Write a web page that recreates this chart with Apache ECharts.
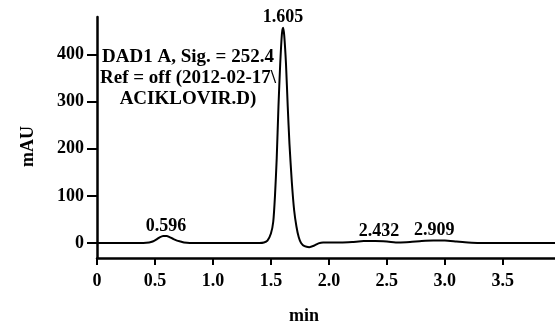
<!DOCTYPE html>
<html>
<head>
<meta charset="utf-8">
<script src="https://cdn.jsdelivr.net/npm/echarts@6/dist/echarts.min.js"></script>
<style>
  html, body { margin: 0; padding: 0; background: #fff; }
  #main-chart { width: 555px; height: 327px; }
</style>
</head>
<body>
<div id="main-chart"></div>
<script>
// retention time (min) and absorbance (mAU)
const times = [0, 0.1, 0.2, 0.3, 0.4, 0.45, 0.48, 0.51, 0.54, 0.57, 0.6, 0.63, 0.66, 0.69, 0.72, 0.75, 0.8, 0.9, 1.0, 1.1, 1.2, 1.3, 1.4, 1.44, 1.47, 1.5, 1.52, 1.535, 1.55, 1.565, 1.58, 1.595, 1.605, 1.615, 1.63, 1.645, 1.66, 1.68, 1.7, 1.72, 1.74, 1.76, 1.79, 1.83, 1.87, 1.91, 1.95, 2.0, 2.1, 2.2, 2.3, 2.4, 2.5, 2.6, 2.7, 2.8, 2.9, 3.0, 3.1, 3.2, 3.3, 3.5, 3.7, 3.95]
const signal = [0, 0, 0, 0, 0, 1, 3, 7, 12, 15, 15, 12, 8, 5, 3, 1, 0, 0, 0, 0, 0, 0, 0, 1, 5, 20, 45, 100, 180, 290, 380, 445, 457, 440, 380, 290, 210, 130, 70, 35, 12, 0, -7, -9, -6, -1, 1, 1, 1, 2, 4, 4, 3, 1, 2, 4, 5, 5, 3, 1, 0, 0, 0, 0]

const peakTimes = [0.596, 1.605, 2.432, 2.909]
const peakHeights = [15, 457, 4, 5]
const peakLabels = ['0.596', '1.605', '2.432', '2.909']

const xTicks = [0, 0.5, 1.0, 1.5, 2.0, 2.5, 3.0, 3.5]
const yTicks = [0, 100, 200, 300, 400]

const infoLines = ['DAD1 A, Sig. = 252.4', 'Ref = off (2012-02-17\\', 'ACIKLOVIR.D)']

const font = 'Liberation Serif'
const ink = '#000'
const txt = { color: ink, fontFamily: font, fontSize: 18, fontWeight: 'bold' }

let chartDom = document.getElementById('main-chart')
let myChart = echarts.init(chartDom)

let option = {
  animation: false,
  grid: { left: 97, right: 0, top: 17, bottom: 69, outerBoundsMode: 'none' },
  xAxis: {
    type: 'value',
    min: 0,
    max: 3.95,
    splitLine: { show: false },
    axisLine: { onZero: false, lineStyle: { color: ink, width: 2.5 } },
    axisTick: { customValues: xTicks, length: 7, lineStyle: { color: ink, width: 2 } },
    axisLabel: Object.assign({
      customValues: xTicks,
      margin: 14,
      formatter: v => v === 0 ? '0' : v.toFixed(1)
    }, txt),
    name: 'min',
    nameLocation: 'middle',
    nameGap: 49,
    nameTextStyle: Object.assign({ padding: [0, 44, 0, 0] }, txt)
  },
  yAxis: {
    type: 'value',
    min: -32,
    max: 480,
    splitLine: { show: false },
    axisLine: { show: true, lineStyle: { color: ink, width: 2.5 } },
    axisTick: { show: true, customValues: yTicks, length: 10, lineStyle: { color: ink, width: 2 } },
    axisLabel: Object.assign({ customValues: yTicks, margin: 13 }, txt),
    name: 'mAU',
    nameLocation: 'middle',
    nameGap: 60,
    nameTextStyle: Object.assign({ padding: [0, 18, 0, 0] }, txt)
  },
  series: [
    {
      type: 'line',
      data: times.map((t, i) => [t, signal[i]]),
      symbol: 'none',
      smooth: 0.2,
      lineStyle: { color: ink, width: 2 }
    },
    {
      type: 'scatter',
      data: peakTimes.map((t, i) => ({ value: [t, peakHeights[i]], name: peakLabels[i] })),
      symbolSize: 0,
      itemStyle: { opacity: 1 },
      label: Object.assign({
        show: true,
        position: 'top',
        distance: 1,
        opacity: 1,
        formatter: p => p.name
      }, txt),
      silent: true
    }
  ],
  graphic: infoLines.map((s, i) => ({
    type: 'text',
    x: 188,
    y: 57 + i * 21,
    style: {
      text: s,
      fill: ink,
      font: 'bold 19px "Liberation Serif"',
      align: 'center',
      verticalAlign: 'middle'
    }
  }))
}

option && myChart.setOption(option)
window.addEventListener('resize', function () {
  myChart.resize()
})
</script>
</body>
</html>
